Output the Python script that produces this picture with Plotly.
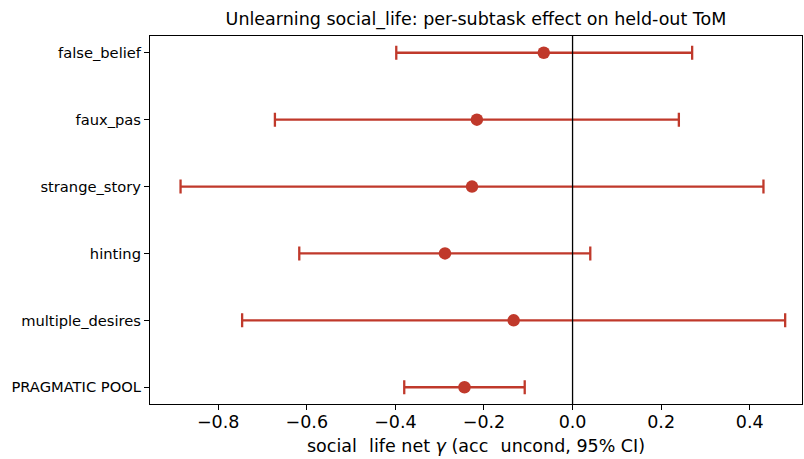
import plotly.graph_objects as go

subtasks = ["false_belief", "faux_pas", "strange_story", "hinting", "multiple_desires", "PRAGMATIC POOL"]
effect = [-0.065, -0.216, -0.227, -0.288, -0.133, -0.244]
ci_low = [-0.398, -0.672, -0.885, -0.617, -0.746, -0.380]
ci_high = [0.270, 0.240, 0.431, 0.040, 0.480, -0.108]

err_plus = [h - e for h, e in zip(ci_high, effect)]
err_minus = [e - l for e, l in zip(effect, ci_low)]

red = "#c0392b"
font = "DejaVu Sans"

fig = go.Figure()
fig.add_trace(go.Scatter(
    x=effect, y=subtasks, mode="markers",
    marker=dict(color=red, size=12.5),
    error_x=dict(type="data", symmetric=False, array=err_plus, arrayminus=err_minus,
                 color=red, thickness=2.3, width=7),
    showlegend=False,
))

fig.add_vline(x=0, line=dict(color="black", width=1.3))

fig.update_layout(
    width=804, height=459,
    margin=dict(l=150, r=2, t=36, b=55),
    paper_bgcolor="white", plot_bgcolor="white",
    font=dict(family=font, color="black"),
    title=dict(text="Unlearning social_life: per-subtask effect on held-out ToM",
               x=(150 + 802) / 2 / 804, xanchor="center", y=(459 - 19) / 459, yanchor="middle",
               font=dict(size=17.5, family=font, color="black")),
)
fig.update_xaxes(
    range=[-0.954, 0.518], tickvals=[-0.8, -0.6, -0.4, -0.2, 0.0, 0.2, 0.4],
    ticktext=["\u22120.8", "\u22120.6", "\u22120.4", "\u22120.2", "0.0", "0.2", "0.4"],
    showgrid=False, zeroline=False, showline=True, linecolor="black", linewidth=1.1, mirror=True,
    ticks="outside", ticklen=5, tickwidth=1, tickcolor="black",
    ticklabelstandoff=-3,
    tickfont=dict(size=17.5, family=font),
    title=dict(text="social\u2002\u2009life net <i>\u03b3</i> (acc\u2002\u2009uncond, 95% CI)",
               font=dict(size=17.5, family=font), standoff=8),
)
fig.update_yaxes(
    type="category", categoryorder="array", categoryarray=subtasks[::-1],
    range=[-0.25, 5.25],
    showgrid=False, zeroline=False, showline=True, linecolor="black", linewidth=1.1, mirror=True,
    ticks="outside", ticklen=5, tickwidth=1, tickcolor="black",
    tickfont=dict(size=14.7, family=font),
)

fig.write_html("out.html", config={"displayModeBar": False},
               post_script="document.body.style.margin='0';")
